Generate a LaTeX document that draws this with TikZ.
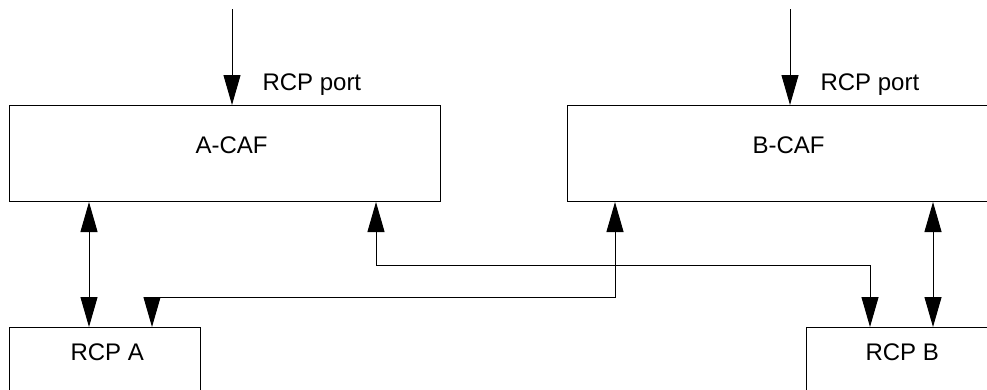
\documentclass[tikz,border=0pt]{standalone}
\usepackage{fontspec}
\setmainfont{Liberation Sans}
\usetikzlibrary{arrows.meta}
\begin{document}
\begin{tikzpicture}[x=1pt,y=-1pt,line width=1pt,
  box/.style={draw,rectangle,inner sep=0pt,anchor=north west},
  cafbox/.style={box,minimum width=431pt,minimum height=96pt},
  rcpbox/.style={box,minimum width=191pt,minimum height=96pt},
  lbl/.style={inner sep=0pt,anchor=base west,font=\fontsize{24}{28}\selectfont},
  tip/.tip={Triangle[length=30pt,width=17pt]},
  arr/.style={-tip},
  biarr/.style={tip-tip}]
\useasboundingbox (0,0) rectangle (987,389);
\clip (0,0) rectangle (987,389);
% boxes
\node[cafbox] (acaf) at (9,105) {};
\node[cafbox] (bcaf) at (567,105) {};
\node[rcpbox] (rcpa) at (9,327) {};
\node[rcpbox] (rcpb) at (806,327) {};
% texts
\node[lbl] (tacaf) at (195,153) {A-CAF};
\node[lbl] (tbcaf) at (752,153) {B-CAF};
\node[lbl] (trcpa) at (70,360) {RCP A};
\node[lbl] (trcpb) at (865,360) {RCP B};
\node[lbl] (porta) at (262,90) {RCP port};
\node[lbl] (portb) at (820,90) {RCP port};
% coordinates
\coordinate (inA) at (232,9);
\coordinate (inB) at (790,9);
\coordinate (xa) at (89,0);
\coordinate (xb) at (933,0);
\coordinate (p1) at (376,265);
\coordinate (p2) at (870,265);
\coordinate (q1) at (615,297);
\coordinate (q2) at (152,297);
% connectors
\draw[arr] (inA) -- (inA |- acaf.north);
\draw[arr] (inB) -- (inB |- bcaf.north);
\draw[biarr] (acaf.south -| xa) -- (rcpa.north -| xa);
\draw[biarr] (bcaf.south -| xb) -- (rcpb.north -| xb);
\draw[biarr] (acaf.south -| p1) -- (p1) -- (p2) -- (rcpb.north -| p2);
\draw[biarr] (bcaf.south -| q1) -- (q1) -- (q2) -- (rcpa.north -| q2);
\end{tikzpicture}
\end{document}
